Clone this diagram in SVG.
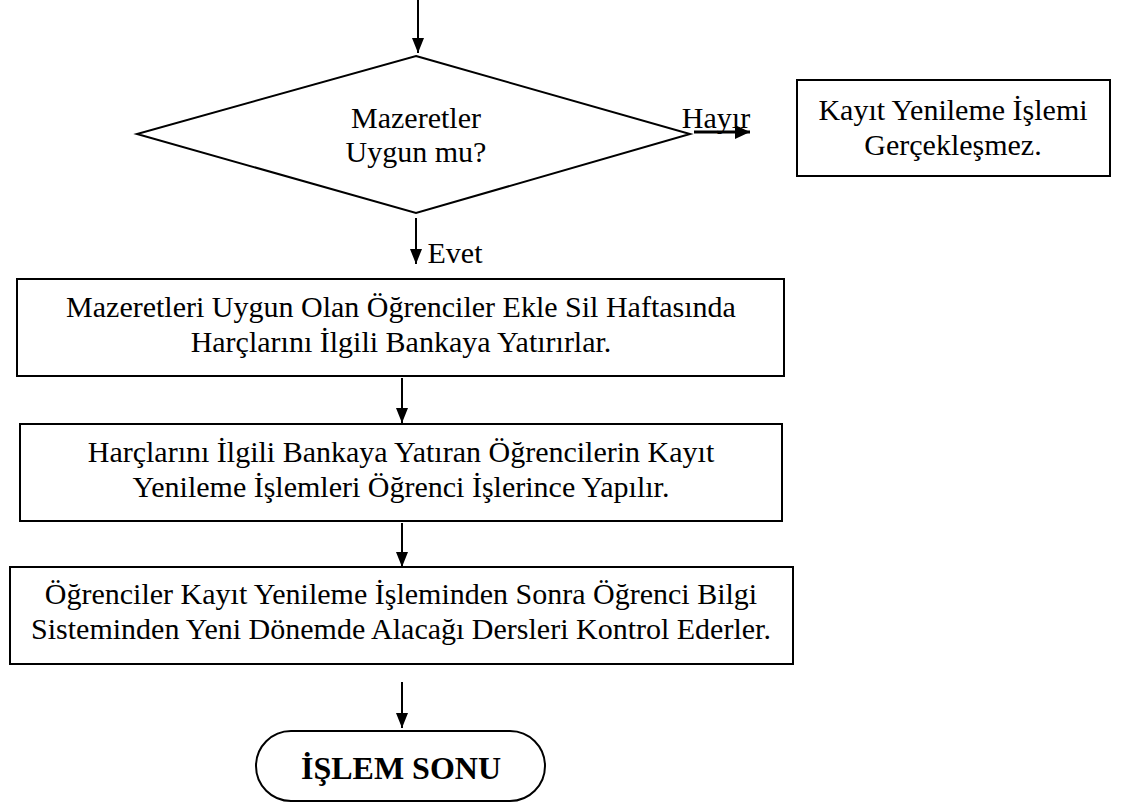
<svg xmlns="http://www.w3.org/2000/svg" width="1125" height="806" viewBox="0 0 1125 806" font-family="'Liberation Serif', 'Times New Roman', serif">
<style>
.s{fill:#fff;stroke:#000;stroke-width:2}
.t{font-size:30px;fill:#000;text-anchor:middle}
.b{font-weight:bold;font-size:32px}
.c{stroke:#000;stroke-width:2;fill:none;marker-end:url(#a)}
</style>
<defs>
<marker id="a" viewBox="0 0 15 12" refX="15" refY="6" markerWidth="15" markerHeight="12" orient="auto" markerUnits="userSpaceOnUse">
<path d="M0,0 L15,6 L0,12 z" fill="#000"/>
</marker>
<marker id="h" viewBox="0 0 15 14" refX="15" refY="7" markerWidth="15" markerHeight="14" orient="auto" markerUnits="userSpaceOnUse">
<path d="M0,0 L15,7 L0,14 z" fill="#000"/>
</marker>
</defs>
<rect width="1125" height="806" fill="#fff"/>
<g id="connectors">
<line class="c" x1="418" y1="0" x2="418" y2="53"/>
<line x1="694" y1="132" x2="750" y2="132" stroke="#000" stroke-width="3" marker-end="url(#h)"/>
<line class="c" x1="416" y1="218" x2="416" y2="264"/>
<line class="c" x1="402" y1="378" x2="402" y2="423"/>
<line class="c" x1="402" y1="523" x2="402" y2="567"/>
<line class="c" x1="402" y1="682" x2="402" y2="728"/>
</g>
<g id="decision">
<polygon class="s" points="416,56 690,134 416,213 137,134"/>
<text class="t" x="416" y="128">Mazeretler</text>
<text class="t" x="416" y="162">Uygun mu?</text>
</g>
<text class="t" x="716" y="128">Hayır</text>
<text class="t" x="455" y="263">Evet</text>
<g id="fail">
<rect class="s" x="797" y="80" width="313" height="96"/>
<text class="t" x="953" y="120">Kayıt Yenileme İşlemi</text>
<text class="t" x="953" y="155">Gerçekleşmez.</text>
</g>
<g id="step1">
<rect class="s" x="17" y="279" width="767" height="97"/>
<text class="t" x="401" y="317">Mazeretleri Uygun Olan Öğrenciler Ekle Sil Haftasında</text>
<text class="t" x="401" y="352">Harçlarını İlgili Bankaya Yatırırlar.</text>
</g>
<g id="step2">
<rect class="s" x="20" y="424" width="762" height="97"/>
<text class="t" x="401" y="462">Harçlarını İlgili Bankaya Yatıran Öğrencilerin Kayıt</text>
<text class="t" x="401" y="497">Yenileme İşlemleri Öğrenci İşlerince Yapılır.</text>
</g>
<g id="step3">
<rect class="s" x="10" y="567" width="783" height="97"/>
<text class="t" x="401" y="604">Öğrenciler Kayıt Yenileme İşleminden Sonra Öğrenci Bilgi</text>
<text class="t" x="401" y="639">Sisteminden Yeni Dönemde Alacağı Dersleri Kontrol Ederler.</text>
</g>
<g id="end">
<rect class="s" x="256" y="731" width="289" height="70" rx="35" ry="35"/>
<text class="t b" x="401" y="779">İŞLEM SONU</text>
</g>
</svg>
